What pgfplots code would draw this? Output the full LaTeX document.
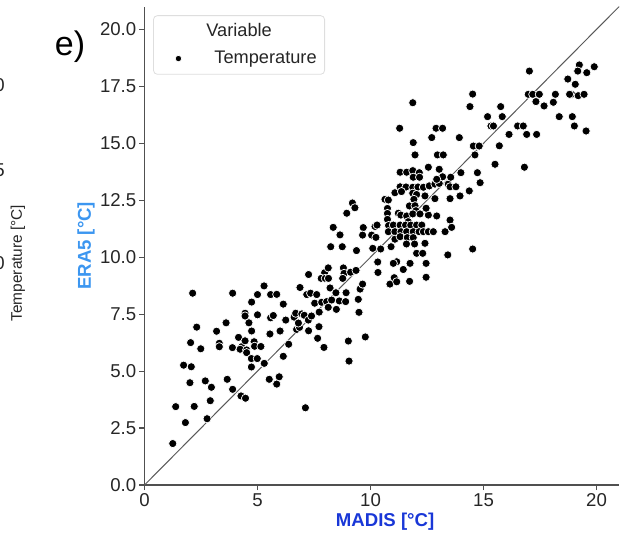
\documentclass[border=0pt]{standalone}
\usepackage{fontspec}
\setmainfont{Liberation Sans}
\usepackage{pgfplots}
\pgfplotsset{compat=1.18}
\usepackage{pgfplotstable}

\definecolor{spine}{RGB}{80,80,80}
\definecolor{ticktxt}{RGB}{38,38,38}
\definecolor{eraBlue}{RGB}{60,150,240}
\definecolor{madisBlue}{RGB}{25,55,215}
\definecolor{legEdge}{RGB}{222,222,222}

\pgfplotsset{
  dotlegend/.style={legend image code/.code={
      \path[draw=none, fill=none] (-10.5pt,0pt) -- (16pt,0pt);
      \draw[##1, mark size=1.6pt] plot coordinates {(0pt,0pt)};}}
}

% MADIS vs ERA5 temperature pairs
\pgfplotstableread{
x y
1.25 1.82
1.81 2.74
1.38 3.44
2.20 3.45
2.77 2.91
2.91 3.70
2.01 4.49
2.69 4.57
2.96 4.29
1.73 5.26
2.07 5.19
2.04 6.25
2.49 5.98
2.31 6.93
2.13 8.42
3.19 6.75
3.61 7.12
3.66 4.64
3.90 4.20
4.27 3.91
4.47 3.81
3.90 8.42
3.31 6.22
3.31 6.07
3.89 6.03
4.16 6.48
4.30 6.07
4.23 5.96
4.52 5.93
4.52 5.81
4.45 6.33
4.45 7.54
4.45 7.42
4.62 7.12
4.74 8.03
4.74 6.76
4.73 5.55
4.73 5.18
4.85 6.29
4.87 6.09
5.15 6.08
5.00 8.36
5.00 7.47
4.99 5.55
5.29 8.74
5.30 5.34
5.58 8.36
5.85 8.37
5.58 7.34
5.70 7.44
5.55 6.63
5.52 4.64
5.96 4.75
5.85 4.43
6.00 6.76
6.14 7.94
6.25 7.24
6.14 5.65
6.38 6.18
6.62 7.37
6.69 7.54
6.73 6.83
6.86 6.92
6.81 7.11
6.88 8.67
6.96 7.51
7.07 7.45
7.12 3.39
7.26 9.24
7.18 8.36
7.35 8.42
7.62 8.36
7.25 7.24
7.26 6.77
7.39 7.42
7.53 7.98
7.73 7.59
7.72 6.95
7.66 6.44
7.94 6.04
7.84 8.02
8.06 8.05
7.97 9.32
7.82 9.07
8.00 9.07
8.14 9.07
8.13 9.53
8.21 8.65
8.28 8.12
8.13 7.80
8.47 8.44
8.49 7.71
8.62 8.08
8.90 8.05
8.92 8.44
8.80 9.53
8.83 9.29
8.77 9.07
9.12 9.34
9.36 9.42
9.46 8.15
9.49 7.58
9.02 6.32
9.05 5.44
9.54 8.60
9.65 8.82
9.77 6.50
8.24 10.46
8.75 10.46
9.38 10.29
8.35 11.31
8.65 10.98
8.95 11.93
9.20 12.38
9.31 12.17
9.68 11.30
9.65 10.97
10.20 11.35
10.29 11.41
10.05 10.97
10.24 10.87
10.10 10.39
10.45 10.36
10.32 9.79
10.33 9.33
10.86 8.82
10.64 12.54
10.79 12.51
10.75 12.14
10.75 11.92
10.75 11.66
10.80 11.39
10.79 11.12
10.91 10.46
11.01 11.41
11.08 11.12
11.08 10.79
11.05 9.10
11.16 8.92
11.16 9.80
11.01 9.73
11.08 12.83
11.23 11.93
11.34 11.85
11.31 13.73
11.60 13.73
11.87 13.80
12.16 13.71
11.89 13.51
12.17 13.51
11.31 13.09
11.57 13.08
11.87 13.07
12.10 13.08
11.37 12.88
11.87 12.81
12.04 12.75
11.92 12.54
11.72 12.25
11.97 12.26
12.01 12.04
11.60 11.81
11.87 11.90
12.19 11.90
11.67 11.56
11.31 11.41
11.55 11.41
11.78 11.41
12.04 11.41
12.27 11.41
11.35 11.12
11.60 11.12
11.89 11.12
12.15 11.12
12.34 11.12
11.31 10.90
11.63 10.86
11.89 10.86
11.59 10.58
11.95 10.58
12.04 10.17
12.31 10.17
11.75 9.73
11.45 9.46
11.73 8.94
12.46 9.73
12.46 9.12
12.41 10.61
12.56 11.12
12.78 11.12
13.30 11.12
12.56 11.85
12.93 11.81
13.52 11.63
13.59 11.31
13.42 10.10
14.52 10.36
12.46 12.15
12.41 12.69
12.85 12.57
13.52 12.57
13.96 12.69
14.37 12.91
12.34 13.07
12.60 13.13
12.85 13.21
13.04 13.24
13.44 13.21
13.52 13.09
13.78 13.09
13.19 13.53
12.93 13.42
13.55 13.51
14.00 13.71
14.73 13.71
14.85 13.27
12.56 13.95
13.04 13.86
11.97 14.49
12.96 14.49
13.22 14.49
14.62 14.49
11.89 15.03
12.71 15.25
13.93 15.25
12.90 15.66
13.19 15.66
11.29 15.66
11.87 16.78
14.52 17.16
14.40 16.61
14.55 14.88
14.81 14.88
15.18 16.17
15.33 15.76
15.44 15.76
15.70 14.89
15.51 14.08
16.81 13.95
15.76 16.61
15.83 16.17
16.51 15.76
16.76 15.76
16.13 15.39
16.91 15.39
17.35 15.39
17.03 18.17
16.98 17.15
17.18 17.15
17.47 17.15
17.32 16.83
17.68 16.64
18.09 16.80
18.18 17.15
18.35 16.17
18.90 17.15
19.19 17.09
19.45 17.15
18.93 16.17
19.02 15.76
19.54 15.54
18.73 17.82
19.06 17.59
19.24 18.44
19.17 18.17
19.57 18.10
19.90 18.36
18.81 17.15
}\tempdata

\begin{document}
\begin{tikzpicture}
\useasboundingbox (0,0) rectangle (312.5pt,266pt);

% fragments of the neighbouring panel and the panel letter
\node[font=\fontsize{17}{20}\selectfont, text=black] at (35pt,242.5pt) {e)};
\node[rotate=90, font=\fontsize{7.7}{9}\selectfont, text=ticktxt] at (9pt,134.5pt) {Temperature [°C]};
\foreach \yy/\tt in {223.5/20, 181/15, 134.5/10}
  \node[anchor=east, inner sep=0pt, font=\fontsize{9.3}{11}\selectfont, text=ticktxt] at (2.5pt,\yy pt) {\tt};

\begin{axis}[
    at={(72.25pt,23.5pt)}, anchor=south west,
    scale only axis,
    width=237.3pt, height=239.2pt,
    xmin=0, xmax=21, ymin=0, ymax=21,
    axis lines=left,
    axis line style={-, draw=spine, line width=0.6pt},
    tick align=outside,
    major tick length=2.6pt,
    tick style={draw=spine, line width=0.6pt},
    xtick={0,5,10,15,20},
    ytick={0,2.5,5,7.5,10,12.5,15,17.5,20},
    minor tick num=0,
    /pgf/number format/assume math mode=true,
    tick label style={font=\fontsize{9.3}{11}\selectfont, text=ticktxt},
    xticklabel style={yshift=1.8pt},
    yticklabel style={xshift=2pt, /pgf/number format/.cd, fixed, fixed zerofill, precision=1},
    xlabel={\textbf{MADIS [°C]}},
    ylabel={\textbf{ERA5 [°C]}},
    xlabel style={at={(rel axis cs:0.507,-0.0765)}, anchor=center, text=madisBlue, font=\fontsize{9.3}{11}\selectfont},
    ylabel style={at={(rel axis cs:-0.1233,0.5)}, anchor=center, rotate=0, text=eraBlue, font=\fontsize{9.3}{11}\selectfont},
    clip=false,
    legend style={at={(rel axis cs:0.018,0.982)}, anchor=north west,
        draw=legEdge, rounded corners=2pt, fill=white,
        font=\fontsize{9.1}{11}\selectfont, text=ticktxt,
        inner xsep=2pt, inner ysep=2pt, row sep=1.5pt},
    legend cell align=left,
]
\addlegendimage{empty legend}
\addlegendentry{\hspace*{-4pt}Variable}
\addplot[only marks, mark=*, mark size=2.05pt,
    mark options={fill=black, draw=white, line width=0.35pt}, dotlegend]
    table[x=x, y=y] {\tempdata};
\addlegendentry{Temperature}
\addplot[forget plot, draw=black!65, line width=0.5pt] coordinates {(0,0) (21,21)};
\end{axis}
\end{tikzpicture}
\end{document}
